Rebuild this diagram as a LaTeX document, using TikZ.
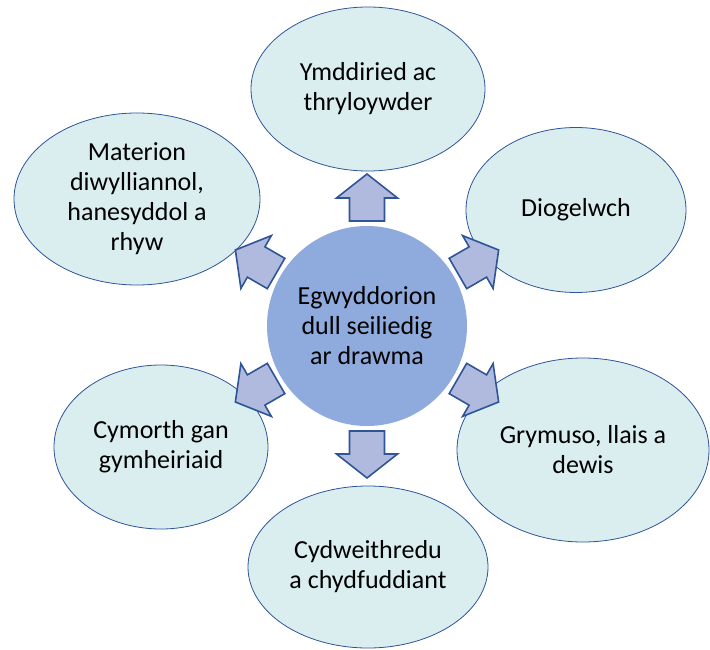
\documentclass[tikz,border=0pt]{standalone}
\usepackage{fontspec}
\setmainfont{Carlito}
\usetikzlibrary{shapes.geometric}
\definecolor{ellfill}{HTML}{DAEEF0}
\definecolor{ellline}{HTML}{2F5597}
\definecolor{hubfill}{HTML}{8FAADC}
\definecolor{arrfill}{HTML}{B0BADF}
\tikzset{
  leaf/.style={ellipse, draw=ellline, line width=0.8pt, fill=ellfill, inner sep=0pt,
    align=center, font=\fontsize{26}{30}\selectfont, text=black},
  hub/.style={circle, fill=hubfill, minimum size=200pt, inner sep=0pt,
    align=center, font=\fontsize{26}{30}\selectfont, text=black},
  blk/.style={draw=ellline, fill=arrfill, line width=1.6pt, line join=miter},
}
\begin{document}
\begin{tikzpicture}[x=1pt, y=-1pt]
\useasboundingbox (0,0) rectangle (710,650);
\node[hub] (c) at (367,326) {Egwyddorion\\dull seiliedig\\ar drawma};
\node[leaf, minimum width=234pt, minimum height=164pt] (n1) at (368,89) {Ymddiried ac\\thryloywder};
\node[leaf, minimum width=220pt, minimum height=165pt] (n2) at (576,210) {Diogelwch};
\node[leaf, minimum width=252pt, minimum height=184pt] (n3) at (583,450) {Grymuso, llais a\\dewis};
\node[leaf, minimum width=240pt, minimum height=162pt] (n4) at (368,567) {Cydweithredu\\a chydfuddiant};
\node[leaf, minimum width=214pt, minimum height=164pt] (n5) at (161,447) {Cymorth gan\\gymheiriaid};
\node[leaf, minimum width=246pt, minimum height=172pt] (n6) at (137,199) {Materion\\diwylliannol,\\hanesyddol a\\rhyw};
\foreach \ang in {90,30,-30,-90,-150,150}{
  \begin{scope}[shift={(c.center)}, rotate=\ang]
    \draw[blk] (105pt,-17.5pt) -- (128pt,-17.5pt) -- (128pt,-30.5pt) -- (152pt,0pt)
      -- (128pt,30.5pt) -- (128pt,17.5pt) -- (105pt,17.5pt) -- cycle;
  \end{scope}
}
\end{tikzpicture}
\end{document}
